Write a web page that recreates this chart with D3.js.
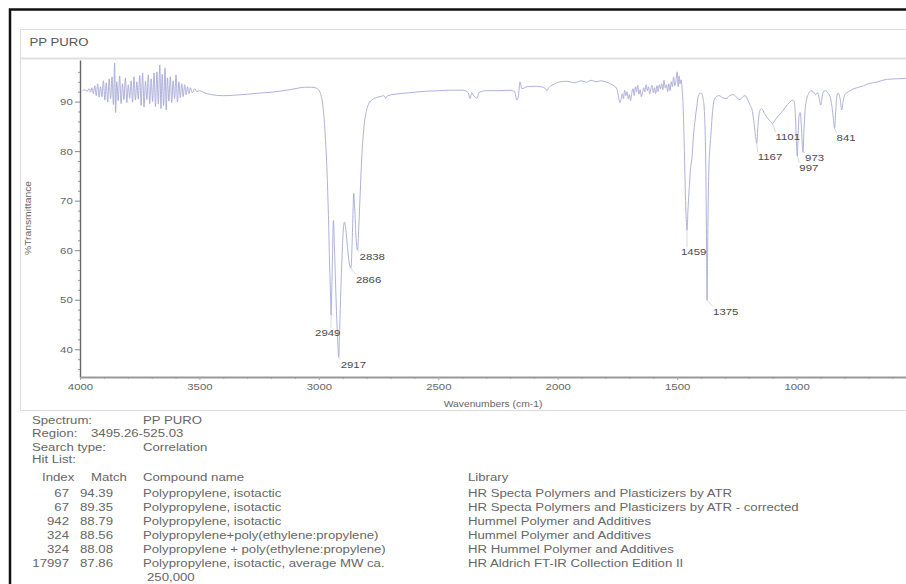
<!DOCTYPE html>
<html>
<head>
<meta charset="utf-8">
<script src="https://cdn.jsdelivr.net/npm/d3@7"></script>
<style>
  html, body { margin: 0; padding: 0; background: #fff; overflow: hidden; }
  svg { display: block; }
  text { font-family: "Liberation Sans", Arial, sans-serif; }
</style>
</head>
<body>
<svg id="chart" width="906" height="584"></svg>
<script>
// ---- spectrum: [wavenumber cm-1, %T], high to low wavenumber ----
const spectrum = [
  [3990,92.2],[3980,92.4],[3970,92.1],[3962,92.6],[3956,91.9],[3950,92.8],[3944,91.6],[3938,93.2],
  [3932,91.2],[3926,93.6],[3920,90.9],[3914,93.0],[3908,91.0],[3902,94.2],[3896,90.3],[3890,93.8],
  [3884,89.9],[3878,94.6],[3872,90.6],[3866,95.0],[3860,89.4],[3855,97.8],[3851,87.8],[3846,94.0],
  [3840,90.2],[3834,95.2],[3828,89.6],[3822,93.6],[3816,90.4],[3810,94.8],[3804,89.8],[3798,93.4],
  [3792,90.7],[3786,94.2],[3780,89.9],[3774,95.0],[3768,90.3],[3762,94.0],[3756,90.5],[3750,95.3],
  [3744,89.2],[3738,95.8],[3732,88.9],[3726,94.1],[3720,90.4],[3714,95.4],[3708,89.6],[3702,94.6],
  [3696,90.0],[3690,95.8],[3684,89.0],[3678,96.0],[3672,89.5],[3666,97.4],[3661,88.6],[3656,95.5],
  [3650,89.2],[3644,96.8],[3639,88.3],[3634,94.8],[3628,90.1],[3622,95.0],[3616,89.8],[3610,94.2],
  [3604,90.6],[3598,95.4],[3592,89.9],[3586,94.0],[3580,90.8],[3574,93.6],[3568,91.0],[3562,93.4],
  [3556,91.4],[3550,93.0],[3544,91.6],[3538,92.8],[3530,91.8],[3520,92.6],[3510,92.0],[3500,92.2],
  [3480,91.8],[3450,91.4],[3400,91.2],[3350,91.3],[3300,91.5],[3250,91.7],[3200,91.9],[3150,92.2],
  [3100,92.6],[3060,92.9],[3030,92.9],[3010,92.7],[3000,92.3],[2992,91.4],[2984,89.5],[2978,86.5],
  [2972,82.0],[2966,76.0],[2960,67.0],[2955,57.0],[2951,50.5],[2949,46.9],[2946,52.0],[2943,59.0],
  [2939,66.0],[2935,61.0],[2930,53.0],[2925,46.0],[2921,41.5],[2917,38.4],[2913,44.0],[2908,52.0],
  [2902,60.0],[2897,64.5],[2893,65.7],[2887,64.2],[2880,60.5],[2873,57.5],[2866,56.4],[2861,61.0],
  [2857,68.0],[2854,71.5],[2850,68.5],[2845,63.0],[2838,60.0],[2833,64.5],[2827,71.5],[2821,78.2],
  [2812,84.5],[2800,88.3],[2790,89.7],[2779,90.3],[2760,90.8],[2744,91.0],[2728,91.2],[2720,90.7],
  [2712,91.2],[2680,91.5],[2640,91.7],[2600,91.9],[2550,92.1],[2500,92.2],[2450,92.3],[2397,92.3],
  [2375,91.8],[2367,90.6],[2360,91.8],[2350,91.1],[2338,90.7],[2330,91.8],[2300,92.2],[2250,92.2],
  [2200,92.3],[2180,92.0],[2171,90.3],[2165,91.0],[2158,94.0],[2150,92.6],[2129,93.0],[2100,93.1],
  [2070,93.0],[2052,92.6],[2045,92.2],[2038,92.8],[2020,93.4],[1990,94.0],[1960,94.1],[1930,93.8],
  [1900,94.2],[1880,93.9],[1860,94.3],[1840,94.0],[1820,94.2],[1800,94.0],[1780,93.6],[1765,93.2],
  [1752,92.5],[1745,90.8],[1740,89.8],[1735,90.4],[1730,91.6],[1725,90.6],[1720,92.3],[1715,91.2],
  [1710,92.0],[1705,90.6],[1700,91.4],[1695,90.2],[1690,91.8],[1685,92.6],[1680,91.2],[1675,93.0],
  [1670,92.0],[1665,93.3],[1660,91.5],[1655,92.4],[1650,91.0],[1645,91.8],[1640,92.8],[1635,92.0],
  [1630,93.4],[1625,92.2],[1620,93.0],[1615,91.6],[1610,92.6],[1605,93.3],[1600,91.8],[1595,92.8],
  [1590,91.6],[1585,93.2],[1580,92.0],[1575,93.4],[1570,92.6],[1565,93.6],[1560,92.4],[1555,94.3],
  [1550,92.8],[1545,93.4],[1540,92.0],[1535,93.6],[1530,92.2],[1525,94.0],[1520,93.0],[1515,95.0],
  [1510,93.2],[1505,94.2],[1500,96.0],[1496,93.0],[1492,95.2],[1488,93.6],[1484,94.4],[1480,93.0],
  [1476,90.0],[1472,84.0],[1468,76.0],[1465,70.0],[1462,66.0],[1459,64.0],[1455,68.0],[1449,73.0],
  [1443,77.0],[1439,78.2],[1432,83.0],[1425,86.3],[1418,89.0],[1412,91.0],[1404,91.7],[1397,91.6],
  [1391,90.4],[1386,88.0],[1382,82.0],[1379,72.0],[1377,60.0],[1375,49.9],[1373,58.0],[1370,70.0],
  [1367,77.0],[1363,80.6],[1358,84.0],[1352,88.0],[1345,90.3],[1336,91.0],[1325,91.2],[1310,90.8],
  [1295,90.6],[1280,91.2],[1265,91.4],[1250,90.8],[1237,90.4],[1225,91.0],[1215,91.2],[1205,90.4],
  [1195,89.3],[1185,88.0],[1178,85.5],[1172,83.0],[1167,81.6],[1162,85.0],[1155,88.0],[1146,88.6],
  [1135,87.6],[1120,86.6],[1110,86.0],[1101,85.6],[1090,86.3],[1075,87.2],[1060,88.0],[1045,89.0],
  [1030,89.8],[1018,90.3],[1010,90.0],[1005,87.0],[1001,82.0],[997,79.0],[994,83.0],[990,87.0],
  [985,87.8],[980,85.0],[976,81.0],[973,79.8],[970,83.5],[965,88.0],[958,90.5],[950,91.6],
  [940,92.2],[930,92.0],[920,91.4],[912,91.8],[906,90.8],[899,89.3],[894,90.6],[888,92.0],
  [880,92.2],[870,91.8],[860,91.0],[852,89.0],[846,86.5],[841,84.6],[837,87.5],[832,91.0],
  [826,91.7],[818,90.6],[811,88.3],[806,89.8],[800,91.2],[790,91.8],[775,92.2],[760,92.6],
  [740,92.9],[720,93.2],[700,93.6],[680,93.8],[660,94.0],[640,94.3],[620,94.5],[580,94.6],[540,94.7]
];

// labelled peak positions (cm-1)
const peakLabels = [2949, 2917, 2866, 2838, 1459, 1375, 1167, 1101, 997, 973, 841];

const xTicks = [4000, 3500, 3000, 2500, 2000, 1500, 1000];
const yTicks = [40, 50, 60, 70, 80, 90];

const chartTitle = "PP PURO";
const xTitle = "Wavenumbers (cm-1)";
const yTitle = "%Transmittance";

// search report
const reportKeys = ["Spectrum:", "Region:", "Search type:", "Hit List:"];
const reportValues = ["PP PURO", "3495.26-525.03", "Correlation", ""];
const hitHeaders = ["Index", "Match", "Compound name", "Library"];
const hitIndex = ["67", "67", "942", "324", "324", "17997"];
const hitMatch = ["94.39", "89.35", "88.79", "88.56", "88.08", "87.86"];
const hitCompound = [
  "Polypropylene, isotactic",
  "Polypropylene, isotactic",
  "Polypropylene, isotactic",
  "Polypropylene+poly(ethylene:propylene)",
  "Polypropylene + poly(ethylene:propylene)",
  "Polypropylene, isotactic, average MW ca."
];
const hitCompoundCont = "250,000";
const hitLibrary = [
  "HR Specta Polymers and Plasticizers by ATR",
  "HR Specta Polymers and Plasticizers by ATR - corrected",
  "Hummel Polymer and Additives",
  "Hummel Polymer and Additives",
  "HR Hummel Polymer and Additives",
  "HR Aldrich FT-IR Collection Edition II"
];

// ---- drawing ----
const svg = d3.select("#chart");
const W = 906, H = 584;
const SX = 1.2;            // horizontal text stretch
const textGray = "#666";

function stext(parent, x, y, s, size, anchor = "start", fill = textGray) {
  return parent.append("text")
    .attr("transform", `translate(${x},${y}) scale(${SX},1)`)
    .attr("font-size", size)
    .attr("text-anchor", anchor)
    .attr("fill", fill)
    .text(s);
}

svg.append("rect").attr("width", W).attr("height", H).attr("fill", "#fff");

// outer black frame (open to the right and bottom)
svg.append("path")
  .attr("d", `M10,${H + 5}V9.5H${W + 5}`)
  .attr("fill", "none").attr("stroke", "#111").attr("stroke-width", 2.5);

// spectrum panel (open to the right)
svg.append("path")
  .attr("d", `M${W + 5},29.5H20.5V410.5H${W + 5}`)
  .attr("fill", "none").attr("stroke", "#dcdcdc").attr("stroke-width", 1.2);
svg.append("line")
  .attr("x1", 20).attr("x2", W + 5).attr("y1", 58.5).attr("y2", 58.5)
  .attr("stroke", "#e0e0e0").attr("stroke-width", 2);

stext(svg, 29.5, 46, chartTitle, 11, "start", "#555");

// scales
const x = d3.scaleLinear().domain([4000, 540]).range([80, 906.5]);
const y = d3.scaleLinear().domain([34.4, 98.4]).range([377, 60]);

// y axis
const yMinor = d3.range(36, 98, 2).filter(v => !yTicks.includes(v));
svg.append("g").attr("transform", "translate(80,0)")
  .call(d3.axisLeft(y).tickValues(yMinor).tickSize(2).tickFormat("").tickSizeOuter(0))
  .call(g => g.select(".domain").remove())
  .call(g => g.selectAll("line").attr("stroke", "#999"));
const yAxis = svg.append("g").attr("transform", "translate(80,0)")
  .call(d3.axisLeft(y).tickValues(yTicks).tickSize(5).tickPadding(1).tickSizeOuter(0));
yAxis.select(".domain").attr("stroke", "#666").attr("stroke-width", 1.4);
yAxis.selectAll(".tick line").attr("stroke", "#888");
yAxis.selectAll(".tick text")
  .attr("font-family", "Liberation Sans, Arial, sans-serif")
  .attr("font-size", 9.5).attr("fill", textGray)
  .attr("transform", `scale(${SX},1)`);

// x axis
const xMinor = d3.range(3900, 540, -100).filter(v => !xTicks.includes(v));
svg.append("g").attr("transform", "translate(0,377)")
  .call(d3.axisBottom(x).tickValues(xMinor).tickSize(2).tickFormat("").tickSizeOuter(0))
  .call(g => g.select(".domain").remove())
  .call(g => g.selectAll("line").attr("stroke", "#aaa"));
const xAxis = svg.append("g").attr("transform", "translate(0,377)")
  .call(d3.axisBottom(x).tickValues(xTicks).tickSize(3).tickPadding(3.3)
    .tickSizeOuter(0).tickFormat(d3.format("d")));
xAxis.select(".domain").attr("stroke", "#999").attr("stroke-width", 1.8);
xAxis.selectAll(".tick line").attr("stroke", "#aaa");
xAxis.selectAll(".tick text")
  .attr("font-family", "Liberation Sans, Arial, sans-serif")
  .attr("font-size", 9.5).attr("fill", textGray)
  .attr("transform", `scale(${SX},1)`);

// axis titles
stext(svg, 493, 407, xTitle, 8.6, "middle");
svg.append("text")
  .attr("transform", `translate(31,218) rotate(-90) scale(${SX},1)`)
  .attr("font-size", 8.6).attr("text-anchor", "middle").attr("fill", textGray)
  .text(yTitle);

// spectrum trace
svg.append("clipPath").attr("id", "plotClip")
  .append("rect").attr("x", 80.5).attr("y", 56).attr("width", W).attr("height", 322);
const line = d3.line()
  .x(d => x(d[0])).y(d => y(d[1]))
  .curve(d3.curveMonotoneX);
svg.append("path")
  .datum(spectrum)
  .attr("clip-path", "url(#plotClip)")
  .attr("fill", "none")
  .attr("stroke", "#a6a8d6")
  .attr("stroke-width", 0.9)
  .attr("stroke-linejoin", "round")
  .attr("d", line);

// peak labels: value comes from the trace at each labelled wavenumber
const labelNudge = [[-16,21],[2,10.5],[5,14.5],[2,10],[-6,25],[6,14.5],[1,17],[3,17],[2,14.5],[2,8.5],[2,12.5]];
const peakG = svg.append("g");
peakLabels.forEach((wn, i) => {
  const pt = spectrum.find(d => d[0] === wn);
  const px = x(pt[0]), py = y(pt[1]);
  const [dx, dy] = labelNudge[i];
  const lx = px + dx, ly = py + dy;
  const w = String(wn).length * 9.5 * 0.556 * SX;
  peakG.append("line")
    .attr("x1", px).attr("y1", py)
    .attr("x2", Math.min(Math.max(px, lx), lx + w)).attr("y2", ly - 8)
    .attr("stroke", "#c8c8d6").attr("stroke-width", 0.7);
  stext(peakG, lx, ly, String(wn), 9.5, "start", "#4a4a4a");
});

// search report
const rep = svg.append("g");
const keyBase = [424, 437, 451, 463];
const valX = [143, 91, 143, 143];
reportKeys.forEach((k, i) => {
  stext(rep, 32, keyBase[i], k, 11);
  if (reportValues[i]) stext(rep, valX[i], keyBase[i], reportValues[i], 11);
});
const headBase = 481, rowStep = 14;
stext(rep, 42, headBase, hitHeaders[0], 11);
stext(rep, 91, headBase, hitHeaders[1], 11);
stext(rep, 143, headBase, hitHeaders[2], 11);
stext(rep, 468, headBase, hitHeaders[3], 11);
hitIndex.forEach((v, i) => {
  const by = headBase + rowStep * (i + 1) + 2;
  stext(rep, 69, by, v, 11, "end");
  stext(rep, 113, by, hitMatch[i], 11, "end");
  stext(rep, 143, by, hitCompound[i], 11);
  stext(rep, 468, by, hitLibrary[i], 11);
});
stext(rep, 147, headBase + rowStep * 7 + 2, hitCompoundCont, 11);
</script>
</body>
</html>
